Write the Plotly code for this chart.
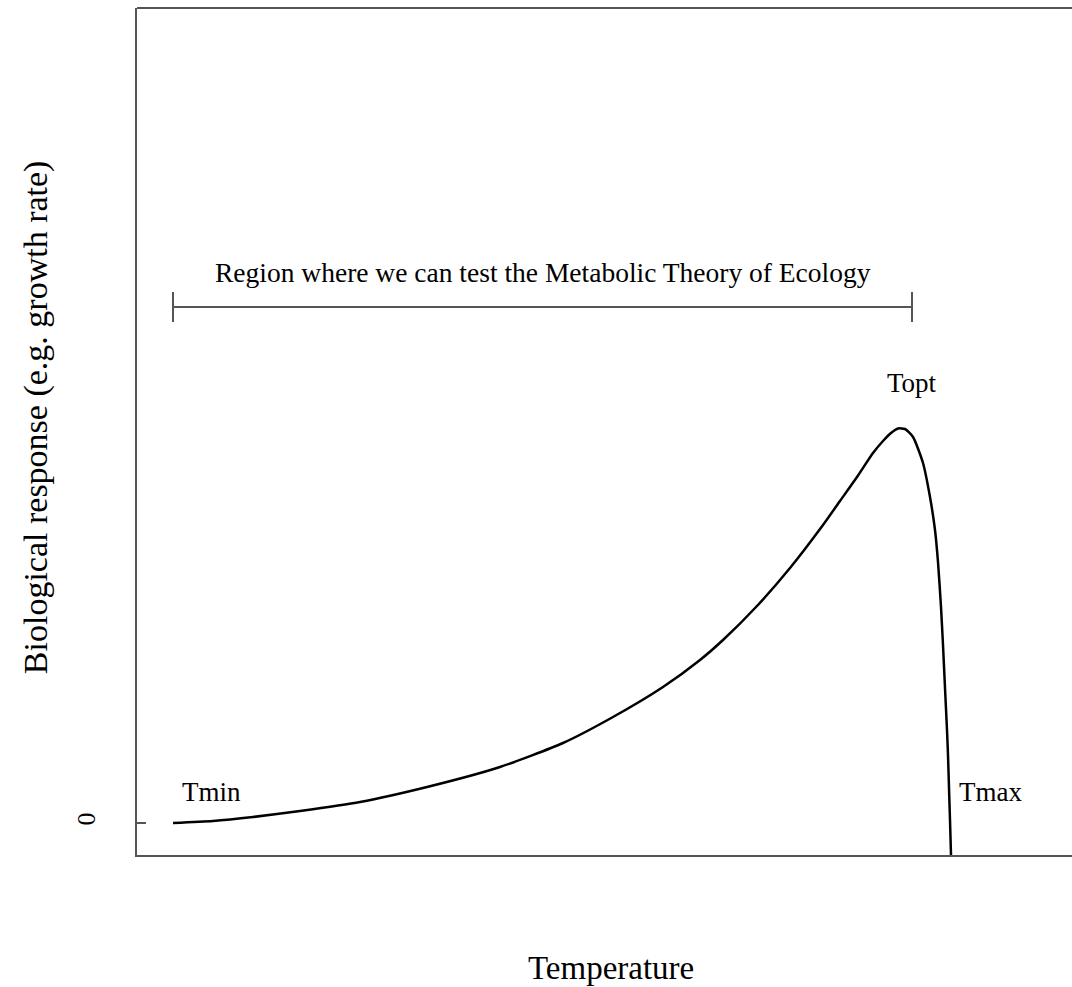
import plotly.graph_objects as go

# Thermal performance curve (temperature in arbitrary units, response in arbitrary units)
temperature = [0, 2.0, 4.0, 6.35, 9.35, 12.7, 16.35, 19.5, 22.0, 24.5, 26.35, 27.5, 29.2,
               30.85, 32.5, 33.35, 34.2, 35.0, 35.5, 35.9, 36.25, 36.6, 37.0, 37.5,
               37.85, 38.1, 38.25, 38.4, 38.5, 38.6, 38.7, 38.75, 38.8, 38.85, 38.9]
response = [0, 0.02, 0.06, 0.12, 0.21, 0.36, 0.56, 0.80, 1.06, 1.36, 1.63, 1.83, 2.17,
            2.55, 2.98, 3.22, 3.46, 3.70, 3.82, 3.90, 3.945, 3.94, 3.86, 3.60,
            3.26, 2.93, 2.61, 2.16, 1.78, 1.35, 0.93, 0.68, 0.35, 0.03, -0.32]

# MTE region bracket
region_x = [0, 36.95]
region_y = 5.16
cap_half = 0.15

labels = ["Tmin", "Topt", "Tmax"]
label_x = [1.9, 36.95, 40.85]
label_y = [0.31, 4.40, 0.31]

region_text = "Region where we can test the Metabolic Theory of Ecology"
x_title = "Temperature"
y_title = "Biological response (e.g. growth rate)"

FONT = "Liberation Serif, Times New Roman, serif"
BOX = "#555555"

fig = go.Figure()

fig.add_trace(go.Scatter(x=temperature, y=response, mode="lines",
                         line=dict(color="black", width=2.5, shape="spline", smoothing=0.6),
                         hoverinfo="skip", showlegend=False))

# bracket horizontal line and caps
fig.add_trace(go.Scatter(x=region_x, y=[region_y, region_y], mode="lines",
                         line=dict(color=BOX, width=2), showlegend=False))
for xv in region_x:
    fig.add_trace(go.Scatter(x=[xv, xv], y=[region_y - cap_half, region_y + cap_half],
                             mode="lines", line=dict(color=BOX, width=2), showlegend=False))

annotations = []
for t, xv, yv in zip(labels, label_x, label_y):
    annotations.append(dict(x=xv, y=yv, xref="x", yref="y", text=t, showarrow=False,
                            font=dict(family=FONT, size=27, color="black")))
annotations.append(dict(x=(region_x[0] + region_x[1]) / 2, y=5.51, xref="x", yref="y",
                        text=region_text, showarrow=False,
                        font=dict(family=FONT, size=27.5, color="black")))
annotations.append(dict(x=0.507, y=-0.157, xref="paper", yref="paper", text=x_title,
                        showarrow=False, font=dict(family=FONT, size=33, color="black")))
annotations.append(dict(x=-0.1304, y=0.517, xref="paper", yref="paper", text=y_title,
                        textangle=-90, showarrow=False,
                        font=dict(family=FONT, size=34, color="black")))

fig.update_layout(
    width=1072, height=987,
    margin=dict(l=137, r=0, t=8, b=132),
    paper_bgcolor="white", plot_bgcolor="white",
    annotations=annotations,
    shapes=[dict(type="line", xref="paper", yref="paper", x0=0, x1=1, y0=1, y1=1,
                 line=dict(color=BOX, width=2))],
    showlegend=False,
)
fig.update_xaxes(range=[-1.8, 44.95], showgrid=False, zeroline=False, showticklabels=False,
                 ticks="", showline=True, linecolor=BOX, linewidth=2)
fig.update_yaxes(range=[-0.32, 8.15], showgrid=False, zeroline=False,
                 tickvals=[0], ticktext=["0"], tickangle=-90, ticks="inside", ticklen=9,
                 tickcolor=BOX, tickwidth=2, ticklabelstandoff=30,
                 tickfont=dict(family=FONT, size=26, color="black"),
                 showline=True, linecolor=BOX, linewidth=2)

fig.write_html("out.html")
